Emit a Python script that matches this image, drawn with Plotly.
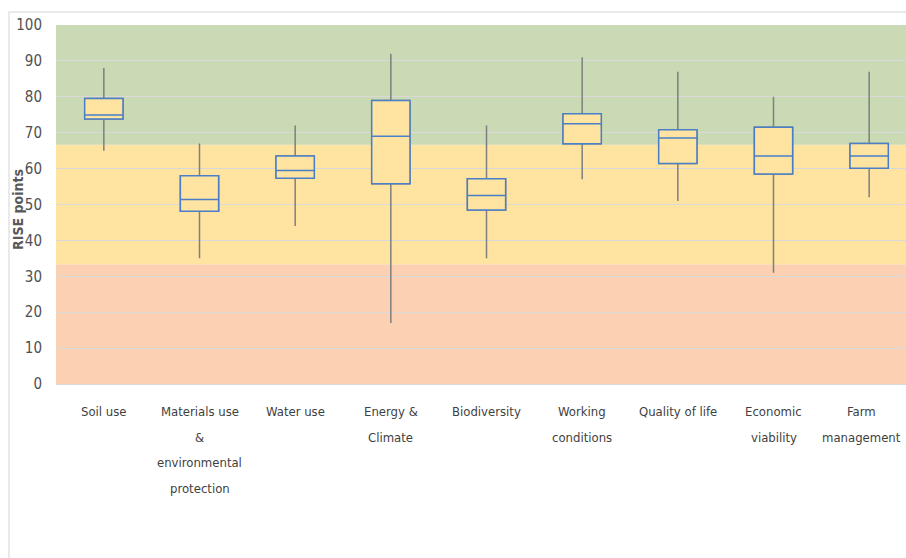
import plotly.graph_objects as go

# ---- data ----
categories = ["Soil use", "Materials use & environmental protection", "Water use",
              "Energy & Climate", "Biodiversity", "Working conditions",
              "Quality of life", "Economic viability", "Farm management"]
label_lines = [["Soil use"], ["Materials use", "&", "environmental", "protection"],
               ["Water use"], ["Energy &", "Climate"], ["Biodiversity"],
               ["Working", "conditions"], ["Quality of life"],
               ["Economic", "viability"], ["Farm", "management"]]
lower = [65, 35, 44, 17, 35, 57, 51, 31, 52]
q1 = [73.8, 48.1, 57.3, 55.8, 48.5, 66.9, 61.4, 58.5, 60.1]
median = [74.9, 51.4, 59.5, 69.0, 52.5, 72.5, 68.5, 63.5, 63.5]
q3 = [79.5, 58.0, 63.5, 79.0, 57.2, 75.3, 70.8, 71.5, 67.0]
upper = [88, 67, 72, 92, 72, 91, 87, 80, 87]

band_low = [0, 33.33, 66.67]
band_high = [33.33, 66.67, 100]
band_colors = ["#FCD0B2", "#FEE4A0", "#C9DAB5"]

y_ticks = list(range(0, 101, 10))

FONT = "DejaVu Sans Condensed, sans-serif"

fig = go.Figure()

# whiskers (gray)
fig.add_trace(go.Box(
    x=categories, q1=q1, median=median, q3=q3,
    lowerfence=lower, upperfence=upper,
    fillcolor="#FEE4A0", line=dict(color="#7F7F7F", width=1.5),
    whiskerwidth=0, width=0.4, boxpoints=False, showlegend=False,
))
# box (blue outline)
fig.add_trace(go.Box(
    x=categories, q1=q1, median=median, q3=q3,
    lowerfence=q1, upperfence=q3,
    fillcolor="#FEE4A0", line=dict(color="#4A7EC7", width=1.5),
    whiskerwidth=0, width=0.4, boxpoints=False, showlegend=False,
))

shapes = []
for lo, hi, c in zip(band_low, band_high, band_colors):
    shapes.append(dict(type="rect", xref="paper", yref="y", x0=0, x1=1,
                       y0=lo, y1=hi, fillcolor=c, line=dict(width=0), layer="below"))
# outer frame
shapes.append(dict(type="rect", xref="paper", yref="paper",
                   x0=-0.0553, x1=1.02, y0=-0.5, y1=1.036,
                   line=dict(color="#E3E3E3", width=1.5), fillcolor="rgba(0,0,0,0)"))

annotations = []
n = len(categories)
for k, (cat, lines) in enumerate(zip(categories, label_lines)):
    for i, t in enumerate(lines):
        annotations.append(dict(x=cat, xref="x", y=0, yref="paper", text=t,
                                showarrow=False, xanchor="center", yanchor="middle",
                                yshift=-27.7 - 25.5 * i,
                                xshift=-8 if k == n - 1 else 0,
                                font=dict(family=FONT, size=13, color="#3F3F3F")))
annotations.append(dict(x=0, xref="paper", y=0.485, yref="paper", text="<b>RISE points</b>",
                        showarrow=False, textangle=-90, xanchor="center", yanchor="middle",
                        xshift=-38, font=dict(family=FONT, size=14, color="#595959")))

fig.update_layout(
    width=906, height=558,
    margin=dict(l=56, r=0, t=25, b=174),
    paper_bgcolor="white", plot_bgcolor="white",
    boxmode="overlay",
    shapes=shapes, annotations=annotations,
    xaxis=dict(type="category", range=[-0.5, 8.385], showticklabels=False,
               showgrid=False, showline=True, linecolor="#D9D9D9", linewidth=1,
               zeroline=False, fixedrange=True),
    yaxis=dict(range=[0, 100], tickvals=y_ticks, showgrid=True, gridcolor="#D9D9D9",
               gridwidth=1, zeroline=False, ticklabelstandoff=13,
               tickfont=dict(family=FONT, size=15, color="#505050")),
)

fig.write_html("out.html", config={"displayModeBar": False},
               post_script="document.body.style.margin='0px';")
